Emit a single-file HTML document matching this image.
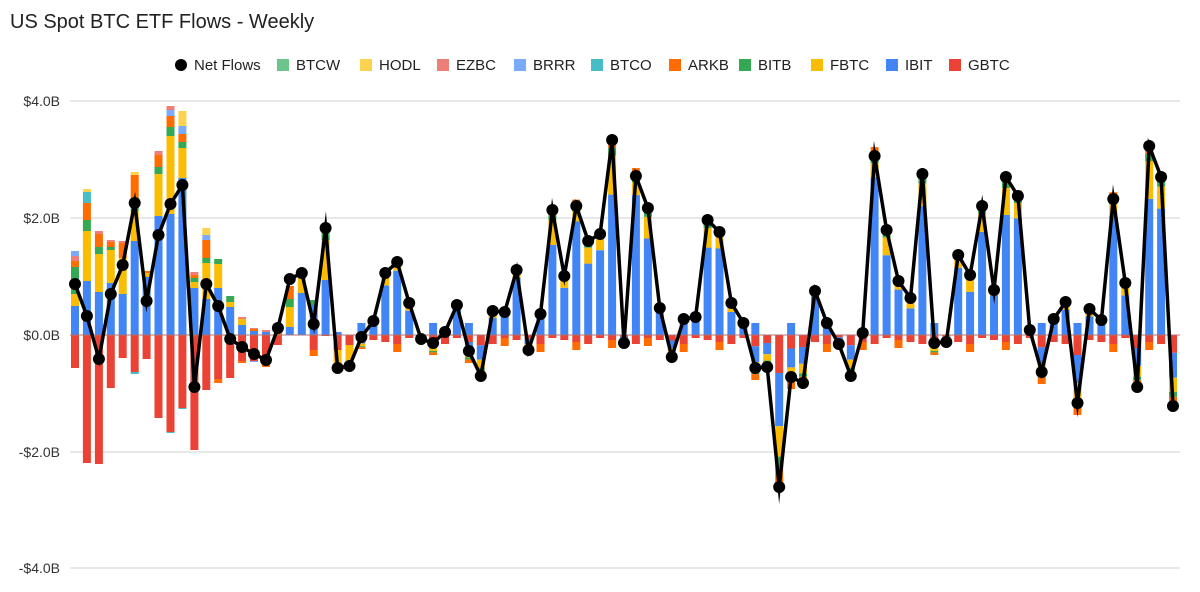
<!DOCTYPE html>
<html><head><meta charset="utf-8">
<style>
html,body{margin:0;padding:0;background:#fff;}
body{width:1200px;height:587px;overflow:hidden;font-family:"Liberation Sans",Arial,sans-serif;}
</style></head>
<body>
<svg id="c" width="1200" height="587" xmlns="http://www.w3.org/2000/svg" font-family="Liberation Sans, Arial, sans-serif">
<rect width="1200" height="587" fill="#fff"/>
<text x="10" y="28" font-size="20" fill="#222">US Spot BTC ETF Flows - Weekly</text>
<g font-size="15" fill="#222">
<circle cx="181" cy="65" r="6" fill="#000"/><text x="194" y="70">Net Flows</text>
<rect x="277" y="59" width="12" height="12" fill="#6cc38e"/><text x="296" y="70">BTCW</text>
<rect x="360" y="59" width="12" height="12" fill="#fdd24f"/><text x="379" y="70">HODL</text>
<rect x="437" y="59" width="12" height="12" fill="#ee7f78"/><text x="456" y="70">EZBC</text>
<rect x="514" y="59" width="12" height="12" fill="#7baaf7"/><text x="533" y="70">BRRR</text>
<rect x="591" y="59" width="12" height="12" fill="#46bdc6"/><text x="610" y="70">BTCO</text>
<rect x="669" y="59" width="12" height="12" fill="#ff6d01"/><text x="688" y="70">ARKB</text>
<rect x="739" y="59" width="12" height="12" fill="#34a853"/><text x="758" y="70">BITB</text>
<rect x="811" y="59" width="12" height="12" fill="#fbbc04"/><text x="830" y="70">FBTC</text>
<rect x="886" y="59" width="12" height="12" fill="#4285f4"/><text x="905" y="70">IBIT</text>
<rect x="949" y="59" width="12" height="12" fill="#ea4335"/><text x="968" y="70">GBTC</text>
</g>
<g stroke="#d0d0d0" stroke-width="1">
<line x1="70" y1="101" x2="1180" y2="101"/>
<line x1="70" y1="218" x2="1180" y2="218"/>
<line x1="70" y1="452" x2="1180" y2="452"/>
<line x1="70" y1="568" x2="1180" y2="568"/>
</g>
<g font-size="14" fill="#333" text-anchor="end">
<text x="60" y="106">$4.0B</text>
<text x="60" y="223">$2.0B</text>
<text x="60" y="340">$0.0B</text>
<text x="60" y="457">-$2.0B</text>
<text x="60" y="573">-$4.0B</text>
</g>
<g id="bars"></g>
<line x1="70" y1="335" x2="1180" y2="335" stroke="#b07070" stroke-width="1"/>
<g id="line"></g>
</svg>
<script>
var ys=[284,316,359,294,265,203,301,235,204,185,387,284,306,339,347,354,360,328,279,273,324,228,368,366,337,321,273,262,303,339,343,332,305,351,376,311,312,270,350,314,210,276,206,241,234,140,343,176,208,308,357,319,317,220,232,303,323,368,367,487,377,383,291,323,344,376,333,156,230,281,298,174,343,342,255,275,206,290,177,196,330,372,319,302,403,309,320,199,283,387,146,177,406];
var C={blue:"#4285f4",yel:"#fbbc04",grn:"#34a853",org:"#ff6d01",tea:"#46bdc6",lb:"#7baaf7",hod:"#fdd24f",ez:"#ee7f78",bw:"#6cc38e",red:"#ea4335"};
var E=[
[[["blue",29],["yel",12],["grn",27],["org",6],["ez",5],["lb",5]],[["red",33]]],
[[["blue",54],["yel",50],["grn",11],["org",17],["tea",11],["hod",3]],[["red",128]]],
[[["blue",43],["yel",38],["grn",7],["org",13],["ez",3]],[["red",129]]],
[[["blue",52],["yel",33],["grn",3],["org",5],["ez",2]],[["red",53]]],
[[["blue",41],["yel",36],["org",15],["ez",2]],[["red",23]]],
[[["blue",94],["yel",30],["grn",13],["org",23],["hod",3]],[["red",37],["tea",2]]],
[[["blue",58],["yel",4],["org",2]],[["red",24]]],
[[["blue",119],["yel",42],["grn",7],["org",12],["ez",4]],[["red",83]]],
[[["blue",121],["yel",78],["grn",9],["org",11],["lb",6],["ez",4]],[["red",97],["tea",1]]],
[[["blue",157],["yel",30],["grn",6],["org",8],["lb",8],["hod",15]],[["red",73],["tea",1]]],
[[["blue",47],["yel",6],["grn",4],["org",3],["ez",3]],[["red",115]]],
[[["blue",36],["yel",36],["grn",5],["org",18],["lb",5],["hod",7]],[["red",55]]],
[[["blue",47],["yel",24],["grn",5]],[["red",44],["org",4]]],
[[["blue",28],["yel",5],["grn",6]],[["red",43]]],
[[["blue",10],["yel",6],["ez",2]],[["red",26],["org",2]]],
[[["blue",4],["org",2],["ez",1]],[["red",26],["lb",1]]],
[[["blue",3],["ez",2]],[["red",30],["org",2]]],
[[["org",4]],[["red",10]]],
[[["blue",8],["yel",20],["grn",8],["org",13]],[]],
[[["blue",42],["yel",15],["grn",3]],[]],
[[["blue",30],["grn",5]],[["red",15],["org",6]]],
[[["blue",55],["yel",40],["grn",7],["org",3]],[["red",1]]],
[[["blue",3]],[["red",15],["yel",15],["org",3]]],
[[],[["red",10],["yel",20],["org",4]]]
];
var g=document.getElementById("bars"),s="";
var x0=75,dx=11.935,bw=8;
function r(x,y,h,c){if(h<=0)return;s+='<rect x="'+(x-bw/2).toFixed(1)+'" y="'+y.toFixed(1)+'" width="'+bw+'" height="'+h.toFixed(1)+'" fill="'+C[c]+'"/>';}
for(var i=0;i<ys.length;i++){
 var x=x0+i*dx,pos,neg;
 if(i<E.length){pos=E[i][0];neg=E[i][1];}
 else{
  var n=335-ys[i];
  if(n>0){
   var sd=(i*37)%5;
   pos=[["blue",n*(0.72+sd*0.04)],["yel",n*(0.2-sd*0.03)],["grn",n*0.04],["org",n*0.05]];
   neg=[["red",3+(i%4)*2]];
   if(i%3==0)neg.push(["org",8]);
  } else {
   var m=-n;
   pos=(i%3==0)?[["blue",12]]:[];
   var extra=(i%3==0)?12:0;
   neg=[["red",(m+extra)*0.25],["blue",(m+extra)*0.35],["yel",(m+extra)*0.2],["grn",(m+extra)*0.07],["org",(m+extra)*0.13]];
  }
 }
 var y=335;
 for(var k=0;k<pos.length;k++){y-=pos[k][1];r(x,y,pos[k][1],pos[k][0]);}
 y=335;
 for(var k=0;k<neg.length;k++){r(x,y,neg[k][1],neg[k][0]);y+=neg[k][1];}
}
g.innerHTML=s;
var p="",d="";
for(var i=0;i<ys.length;i++){var x=x0+i*dx;p+=(i?" L":"M")+x.toFixed(1)+" "+ys[i];d+='<circle cx="'+x.toFixed(1)+'" cy="'+ys[i]+'" r="6" fill="#000"/>';}
document.getElementById("line").innerHTML='<path d="'+p+'" fill="none" stroke="#000" stroke-width="3.5" stroke-linejoin="miter" stroke-miterlimit="10"/>'+d;
</script>
</body></html>
